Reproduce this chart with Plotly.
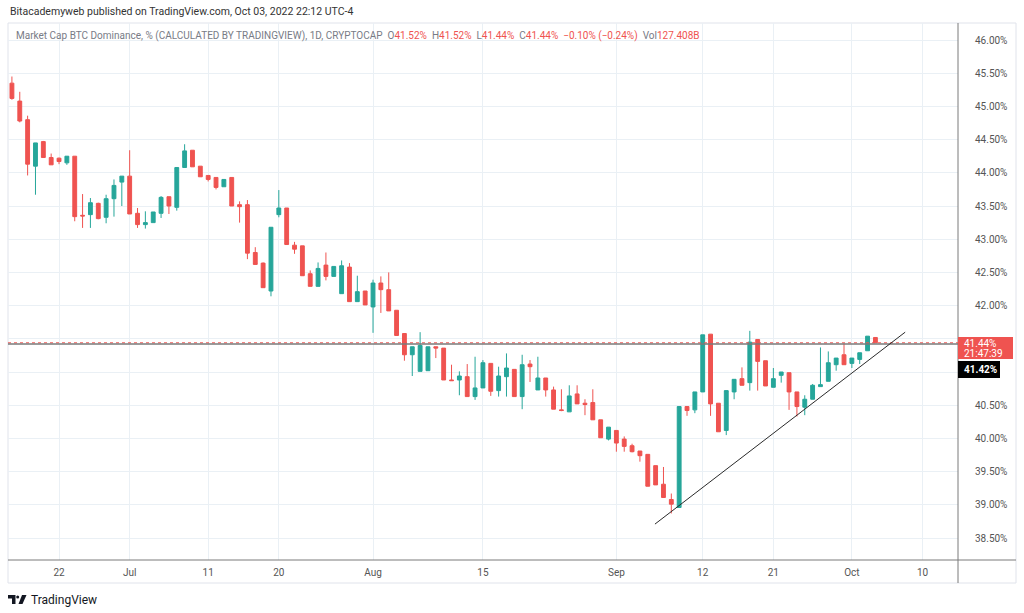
import pandas as pd
import plotly.graph_objects as go

# ---------------- data ----------------
start_date = "2022-06-16"
opens = [45.35, 45.08, 44.80, 44.10, 44.47, 44.23, 44.22, 44.15, 44.25, 43.36,
         43.37, 43.54, 43.33, 43.61, 43.86, 43.95, 43.39, 43.22, 43.25, 43.39,
         43.64, 43.48, 44.08, 44.34, 44.10, 43.96, 43.93, 43.79, 43.93, 43.52,
         43.52, 42.80, 42.64, 42.22, 43.37, 43.47, 42.91, 42.90, 42.48, 42.29,
         42.61, 42.44, 42.18, 42.58, 42.06, 42.22, 41.98, 42.34, 42.24, 41.93,
         41.58, 41.26, 41.01, 41.02, 41.38, 41.36, 40.88, 40.88, 40.93, 40.63,
         40.76, 41.13, 40.72, 40.93, 41.04, 40.63, 41.12, 40.73, 40.91, 40.73,
         40.43, 40.40, 40.67, 40.53, 40.54, 40.28, 39.99, 40.12, 39.99, 39.89,
         39.81, 39.76, 39.59, 39.31, 39.08, 38.96, 40.48, 40.43, 40.70, 41.57,
         40.53, 40.12, 40.70, 40.90, 40.84, 41.49, 41.17, 40.77, 40.95, 40.99,
         40.70, 40.47, 40.59, 40.78, 40.86, 41.11, 41.26, 41.13, 41.19, 41.32,
         41.52]
highs = [45.45, 45.22, 44.86, 44.45, 44.48, 44.29, 44.23, 44.25, 44.25, 43.68,
         43.62, 43.55, 43.67, 43.90, 43.95, 44.34, 43.47, 43.42, 43.41, 43.65,
         43.64, 44.08, 44.43, 44.34, 44.10, 43.96, 43.93, 43.90, 43.93, 43.57,
         43.59, 42.88, 42.65, 43.18, 43.74, 43.47, 42.96, 42.90, 42.53, 42.65,
         42.80, 42.59, 42.68, 42.64, 42.45, 42.22, 42.39, 42.44, 42.50, 41.93,
         41.58, 41.38, 41.60, 41.38, 41.38, 41.36, 41.11, 41.01, 41.12, 41.23,
         41.18, 41.13, 41.08, 41.28, 41.04, 41.26, 41.18, 41.23, 40.91, 40.78,
         40.74, 40.80, 40.80, 40.59, 40.74, 40.28, 40.17, 40.12, 40.03, 39.92,
         39.81, 39.76, 39.59, 39.57, 39.17, 40.48, 40.48, 40.70, 41.56, 41.57,
         40.53, 40.72, 40.89, 41.07, 41.62, 41.49, 41.17, 41.06, 41.00, 40.99,
         40.70, 40.65, 40.82, 41.37, 41.31, 41.21, 41.43, 41.21, 41.29, 41.54,
         41.52]
lows = [45.10, 44.76, 43.96, 43.67, 44.23, 44.12, 44.13, 44.12, 43.27, 43.17,
        43.17, 43.30, 43.24, 43.34, 43.50, 43.38, 43.17, 43.16, 43.25, 43.32,
        43.38, 43.43, 44.08, 44.09, 43.94, 43.87, 43.75, 43.79, 43.50, 43.25,
        42.70, 42.62, 42.27, 42.14, 43.33, 42.92, 42.78, 42.45, 42.29, 42.29,
        42.38, 42.44, 42.18, 42.06, 42.06, 42.01, 41.59, 41.89, 41.92, 41.55,
        41.17, 40.94, 41.01, 41.02, 41.21, 40.88, 40.87, 40.65, 40.63, 40.58,
        40.76, 40.64, 40.63, 40.63, 40.63, 40.44, 40.85, 40.73, 40.63, 40.44,
        40.41, 40.40, 40.52, 40.35, 40.28, 40.01, 39.97, 39.80, 39.80, 39.79,
        39.65, 39.28, 39.30, 39.11, 38.87, 38.96, 40.34, 40.38, 40.70, 40.34,
        40.10, 40.05, 40.59, 40.80, 40.72, 40.72, 40.79, 40.77, 40.84, 40.43,
        40.33, 40.35, 40.59, 40.78, 40.86, 41.02, 41.11, 41.06, 41.12, 41.32,
        41.44]
closes = [45.12, 44.78, 44.13, 44.45, 44.23, 44.12, 44.17, 44.25, 43.34, 43.35,
          43.55, 43.31, 43.61, 43.81, 43.95, 43.38, 43.22, 43.25, 43.41, 43.63,
          43.50, 44.08, 44.33, 44.09, 43.94, 43.90, 43.78, 43.90, 43.50, 43.49,
          42.79, 42.62, 42.27, 43.18, 43.47, 42.92, 42.85, 42.45, 42.29, 42.56,
          42.44, 42.59, 42.60, 42.06, 42.21, 42.01, 42.34, 42.24, 41.92, 41.55,
          41.26, 41.38, 41.40, 41.38, 41.36, 40.88, 40.87, 40.94, 40.63, 40.76,
          41.14, 40.71, 40.94, 41.06, 40.63, 41.11, 41.08, 40.91, 40.73, 40.44,
          40.42, 40.64, 40.52, 40.51, 40.28, 40.01, 40.17, 39.93, 39.88, 39.80,
          39.74, 39.28, 39.30, 39.11, 39.01, 40.48, 40.42, 40.70, 41.56, 40.52,
          40.10, 40.72, 40.89, 40.80, 41.45, 41.16, 40.79, 40.90, 41.00, 40.70,
          40.48, 40.59, 40.80, 40.81, 41.14, 41.21, 41.11, 41.21, 41.29, 41.54,
          41.44]

x_tick_dates = ["2022-06-22", "2022-07-01", "2022-07-11", "2022-07-20", "2022-08-01",
                "2022-08-15", "2022-09-01", "2022-09-12", "2022-09-21", "2022-10-01",
                "2022-10-10"]
x_tick_text = ["22", "Jul", "11", "20", "Aug", "15", "Sep", "12", "21", "Oct", "10"]
y_tick_vals = [38.5, 39.0, 39.5, 40.0, 40.5, 41.0, 41.5, 42.0, 42.5, 43.0,
               43.5, 44.0, 44.5, 45.0, 45.5, 46.0]
# labels hidden behind the price-scale badges in the reference
y_hidden_labels = [41.0, 41.5]

last_price = 41.44
level_price = 41.42
countdown = "21:47:39"
trend_x = ["2022-09-05 22:00", "2022-10-07 19:00"]
trend_y = [38.71, 41.60]

header_text = "Bitacademyweb published on TradingView.com, Oct 03, 2022 22:12 UTC-4"
series_name = "Market Cap BTC Dominance, % (CALCULATED BY TRADINGVIEW), 1D, CRYPTOCAP"
legend_o, legend_h, legend_l, legend_c = "41.52%", "41.52%", "41.44%", "41.44%"
legend_chg = "\u22120.10% (\u22120.24%)"
legend_vol = "127.408B"

x_range = ["2022-06-15 12:00", "2022-10-14 12:30"]
y_range = [38.169, 46.256]

# ---------------- figure ----------------
GREEN = "#26a69a"
RED = "#ef5350"
FONT = "Roboto"

dates = pd.date_range(start_date, periods=len(opens), freq="D")
y_tick_text = ["" if v in y_hidden_labels else f"{v:.2f}%" for v in y_tick_vals]

fig = go.Figure()
fig.add_trace(go.Candlestick(
    x=dates, open=opens, high=highs, low=lows, close=closes,
    increasing=dict(line=dict(color=GREEN, width=1), fillcolor=GREEN),
    decreasing=dict(line=dict(color=RED, width=1), fillcolor=RED),
    whiskerwidth=0, showlegend=False, hoverinfo="skip",
))

W, H = 1024, 613
L, R, T, B = 8, 958, 23, 560


def px(x):
    return (x - L) / (R - L)


def py(y):
    return (B - y) / (B - T)


shapes = []
# chart frame
shapes.append(dict(type="rect", xref="paper", yref="paper", x0=px(8), x1=px(1016),
                   y0=py(583), y1=py(23), line=dict(color="#e0e3eb", width=1),
                   fillcolor="rgba(0,0,0,0)", layer="below"))
# separators
shapes.append(dict(type="line", xref="paper", yref="paper", x0=px(958), x1=px(958),
                   y0=py(583), y1=py(23), line=dict(color="#7b7b7b", width=1)))
shapes.append(dict(type="line", xref="paper", yref="paper", x0=px(8), x1=px(1016),
                   y0=py(560), y1=py(560), line=dict(color="#7b7b7b", width=1)))
# price lines
shapes.append(dict(type="line", xref="paper", yref="y", x0=0, x1=1,
                   y0=last_price, y1=last_price, line=dict(color=RED, width=1, dash="dot")))
shapes.append(dict(type="line", xref="paper", yref="y", x0=0, x1=1,
                   y0=level_price, y1=level_price, line=dict(color="#7a7a7a", width=1.5)))
# trend line
shapes.append(dict(type="line", xref="x", yref="y", x0=trend_x[0], x1=trend_x[1],
                   y0=trend_y[0], y1=trend_y[1], line=dict(color="#2a2a2a", width=1)))
# price-scale badges
shapes.append(dict(type="rect", xref="paper", yref="paper", x0=px(958), x1=px(1013),
                   y0=py(359), y1=py(337), fillcolor=RED, line=dict(width=0)))
shapes.append(dict(type="rect", xref="paper", yref="paper", x0=px(958), x1=px(1000),
                   y0=py(378), y1=py(361), fillcolor="#000000", line=dict(width=0)))


# TradingView logo (approximation)
def path(points):
    return "M " + " L ".join(f"{px(a):.5f},{py(b):.5f}" for a, b in points) + " Z"


shapes.append(dict(type="path", xref="paper", yref="paper",
                   path=path([(8, 595), (15.5, 595), (15.5, 604), (12, 604), (12, 598.5), (8, 598.5)]),
                   fillcolor="#131722", line=dict(width=0)))
shapes.append(dict(type="circle", xref="paper", yref="paper", x0=px(16.2), x1=px(19.2),
                   y0=py(598.5), y1=py(595.5), fillcolor="#131722", line=dict(width=0)))
shapes.append(dict(type="path", xref="paper", yref="paper",
                   path=path([(22, 595), (26.5, 595), (22.5, 604), (18.5, 604)]),
                   fillcolor="#131722", line=dict(width=0)))

annotations = []
annotations.append(dict(xref="paper", yref="paper", x=px(8), y=py(12), xanchor="left",
                        yanchor="middle", showarrow=False, text=header_text,
                        font=dict(family=FONT, size=10.5, color="#333333")))
grey = "#787b86"
leg = (f"<span style='color:{grey}'>{series_name}</span>\u00a0\u00a0"
       f"<span style='color:{grey}'>O</span><span style='color:{RED}'>{legend_o}</span>\u00a0\u00a0"
       f"<span style='color:{grey}'>H</span><span style='color:{RED}'>{legend_h}</span>\u00a0\u00a0"
       f"<span style='color:{grey}'>L</span><span style='color:{RED}'>{legend_l}</span>\u00a0\u00a0"
       f"<span style='color:{grey}'>C</span><span style='color:{RED}'>{legend_c}</span>\u00a0\u00a0"
       f"<span style='color:{RED}'>{legend_chg}</span>\u00a0\u00a0"
       f"<span style='color:{grey}'>Vol</span><span style='color:{RED}'>{legend_vol}</span>")
annotations.append(dict(xref="paper", yref="paper", x=px(14), y=py(36), xanchor="left",
                        yanchor="middle", showarrow=False, text=leg,
                        font=dict(family=FONT, size=10, color=grey)))
annotations.append(dict(xref="paper", yref="paper", x=px(962), y=py(343), xanchor="left",
                        yanchor="middle", showarrow=False, text=f"{last_price:.2f}%",
                        font=dict(family=FONT, size=10, color="white")))
annotations.append(dict(xref="paper", yref="paper", x=px(962), y=py(353), xanchor="left",
                        yanchor="middle", showarrow=False, text=countdown,
                        font=dict(family=FONT, size=10, color="white")))
annotations.append(dict(xref="paper", yref="paper", x=px(962), y=py(369.5), xanchor="left",
                        yanchor="middle", showarrow=False, text=f"<b>{level_price:.2f}%</b>",
                        font=dict(family=FONT, size=10, color="white")))
annotations.append(dict(xref="paper", yref="paper", x=px(29), y=py(599.5), xanchor="left",
                        yanchor="middle", showarrow=False, text="TradingView",
                        font=dict(family=FONT, size=12, color="#131722")))

fig.update_layout(
    width=W, height=H,
    margin=dict(l=L, r=W - R, t=T, b=H - B),
    paper_bgcolor="white", plot_bgcolor="white",
    shapes=shapes, annotations=annotations,
    showlegend=False,
    xaxis=dict(type="date", range=x_range, rangeslider=dict(visible=False),
               tickvals=x_tick_dates, ticktext=x_tick_text, showgrid=True,
               gridcolor="#eaf0f5", gridwidth=1, zeroline=False, showline=False,
               ticks="", ticklabelstandoff=5,
               tickfont=dict(family=FONT, size=10, color="#555555")),
    yaxis=dict(side="right", range=y_range, tickvals=y_tick_vals, ticktext=y_tick_text,
               showgrid=True, gridcolor="#eaf0f5", gridwidth=1,
               zeroline=False, showline=False, ticks="", ticklabelstandoff=16,
               tickfont=dict(family=FONT, size=10, color="#555555")),
)

fig.write_html("out.html")
